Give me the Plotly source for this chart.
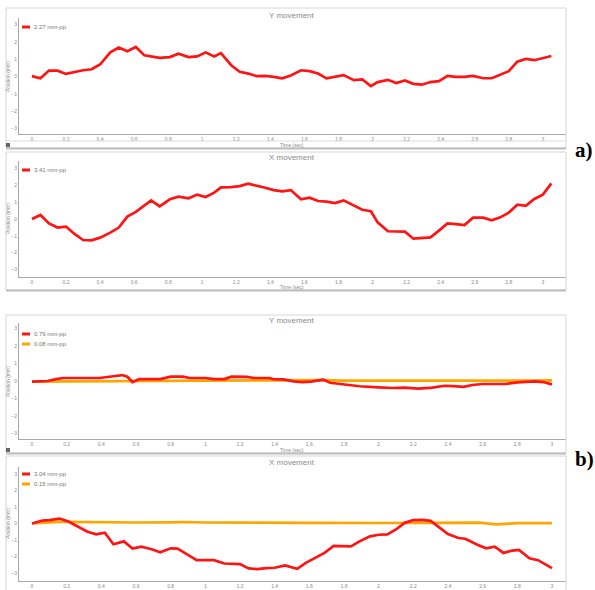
import plotly.graph_objects as go

W, H = 595, 590

# ---------------- data ----------------
time_a = [0, 0.05, 0.1, 0.15, 0.2, 0.25, 0.3, 0.35, 0.4, 0.46, 0.51, 0.56, 0.61, 0.66,
          0.7, 0.75, 0.81, 0.86, 0.92, 0.97, 1.02, 1.07, 1.11, 1.17, 1.22, 1.27, 1.32,
          1.37, 1.42, 1.47, 1.52, 1.58, 1.63, 1.68, 1.73, 1.78, 1.83, 1.89, 1.94, 1.99,
          2.03, 2.09, 2.14, 2.19, 2.24, 2.29, 2.34, 2.39, 2.44, 2.49, 2.54, 2.59, 2.65,
          2.7, 2.75, 2.8, 2.85, 2.9, 2.95, 3.0, 3.05]
y_move_a = [0.02, -0.1, 0.34, 0.34, 0.15, 0.27, 0.36, 0.42, 0.69, 1.39, 1.67, 1.46, 1.7,
            1.22, 1.16, 1.07, 1.12, 1.31, 1.12, 1.16, 1.39, 1.16, 1.35, 0.65, 0.27, 0.17,
            0.02, 0.04, -0.02, -0.1, 0.06, 0.36, 0.31, 0.17, -0.11, -0.03, 0.08, -0.21,
            -0.17, -0.55, -0.32, -0.19, -0.38, -0.23, -0.42, -0.47, -0.32, -0.27, 0.04,
            -0.02, -0.02, 0.04, -0.1, -0.1, 0.1, 0.31, 0.86, 1.01, 0.94, 1.05, 1.18]
x_move_a = [0.0, 0.24, -0.26, -0.51, -0.45, -0.89, -1.25, -1.27, -1.11, -0.81, -0.51, 0.14,
            0.42, 0.79, 1.11, 0.75, 1.17, 1.33, 1.23, 1.45, 1.31, 1.57, 1.88, 1.9, 1.96,
            2.1, 2.0, 1.86, 1.72, 1.64, 1.72, 1.17, 1.27, 1.07, 1.03, 0.95, 1.11, 0.79,
            0.55, 0.46, -0.2, -0.73, -0.73, -0.75, -1.17, -1.15, -1.09, -0.69, -0.26,
            -0.3, -0.36, 0.08, 0.08, -0.08, 0.1, 0.38, 0.85, 0.79, 1.19, 1.45, 2.12]

time_yb_red = [0, 0.09, 0.14, 0.18, 0.3, 0.39, 0.47, 0.52, 0.55, 0.58, 0.62, 0.74, 0.8,
               0.87, 0.91, 1.0, 1.05, 1.11, 1.15, 1.24, 1.28, 1.37, 1.39, 1.45, 1.51,
               1.56, 1.61, 1.68, 1.72, 1.8, 1.89, 2.0, 2.08, 2.15, 2.23, 2.31, 2.38,
               2.43, 2.49, 2.54, 2.6, 2.73, 2.8, 2.9, 2.95, 3.0]
y_move_b_red = [-0.04, 0, 0.11, 0.17, 0.17, 0.17, 0.27, 0.34, 0.24, -0.06, 0.11, 0.11,
                0.25, 0.25, 0.17, 0.17, 0.11, 0.11, 0.25, 0.23, 0.17, 0.17, 0.11, 0.09,
                -0.02, -0.06, -0.04, 0.08, -0.1, -0.21, -0.3, -0.36, -0.4, -0.38, -0.44,
                -0.38, -0.27, -0.29, -0.33, -0.23, -0.17, -0.17, -0.08, -0.02, -0.06, -0.19]
time_yb_orange = [0, 0.3, 0.6, 0.9, 1.2, 1.5, 1.68, 1.8, 2.1, 2.4, 2.7, 3.0]
y_move_b_orange = [-0.03, -0.01, 0.0, 0.0, 0.01, 0.03, 0.05, 0.02, 0.01, 0.02, 0.02, 0.03]

time_xb_red = [0, 0.06, 0.1, 0.16, 0.21, 0.27, 0.32, 0.37, 0.42, 0.47, 0.53, 0.58, 0.63,
               0.69, 0.74, 0.8, 0.84, 0.89, 0.95, 1.0, 1.05, 1.11, 1.16, 1.2, 1.25, 1.3,
               1.35, 1.4, 1.46, 1.53, 1.58, 1.63, 1.69, 1.74, 1.79, 1.84, 1.89, 1.95,
               2.0, 2.05, 2.1, 2.15, 2.2, 2.25, 2.3, 2.35, 2.4, 2.46, 2.5, 2.57, 2.62,
               2.67, 2.72, 2.77, 2.81, 2.87, 2.92, 3.0]
x_move_b_red = [0, 0.18, 0.2, 0.3, 0.12, -0.22, -0.5, -0.66, -0.56, -1.26, -1.08, -1.52,
                -1.4, -1.56, -1.74, -1.5, -1.52, -1.84, -2.22, -2.22, -2.22, -2.42, -2.46,
                -2.46, -2.72, -2.76, -2.7, -2.68, -2.54, -2.74, -2.38, -2.08, -1.76, -1.36,
                -1.36, -1.38, -1.08, -0.78, -0.68, -0.66, -0.36, 0.04, 0.2, 0.22, 0.16,
                -0.26, -0.64, -0.88, -0.92, -1.28, -1.5, -1.4, -1.78, -1.64, -1.6, -2.1,
                -2.22, -2.7]
time_xb_orange = [0, 0.1, 0.15, 0.2, 0.4, 0.6, 0.8, 0.9, 1.0, 1.3, 1.4, 1.6, 2.0, 2.2,
                  2.3, 2.4, 2.58, 2.68, 2.8, 3.0]
x_move_b_orange = [0.0, 0.08, 0.1, 0.1, 0.07, 0.06, 0.07, 0.09, 0.06, 0.07, 0.05, 0.04,
                   0.03, 0.04, 0.06, 0.03, 0.05, -0.05, 0.02, 0.02]

panel_titles = ["Y movement", "X movement", "Y movement", "X movement"]
legend_a_y = ["2.27 mm-pp"]
legend_a_x = ["3.41 mm-pp"]
legend_b_y = ["0.79 mm-pp", "0.08 mm-pp"]
legend_b_x = ["3.04 mm-pp", "0.15 mm-pp"]
x_tick_vals = [0, 0.2, 0.4, 0.6, 0.8, 1, 1.2, 1.4, 1.6, 1.8, 2, 2.2, 2.4, 2.6, 2.8, 3]
x_tick_text = ["0", "0.2", "0.4", "0.6", "0.8", "1", "1.2", "1.4", "1.6", "1.8", "2",
               "2.2", "2.4", "2.6", "2.8", "3"]
y_tick_vals = [-3, -2, -1, 0, 1, 2, 3]
x_title = "Time (sec)"
y_title = "Position (mm)"
panel_labels = ["a)", "b)"]

RED = "#ff1414"
ORANGE = "#ffa500"
GRAY = "#8a8a8a"


def px(x):
    return x / W


def py(y):
    return 1 - y / H


fig = go.Figure()

# panel geometry (pixels)
panels = [
    dict(frame=(6, 8, 566, 148), top=18, bot=134, xr=[-0.076, 3.136], yr=[-3.31, 3.37],
         title_y=15, leg_y=27, xt_y=145, zero=77, icon=True),
    dict(frame=(6, 152, 566, 290), top=161, bot=277, xr=[-0.076, 3.136], yr=[-3.45, 3.45],
         title_y=157, leg_y=170, xt_y=287, zero=219, icon=False),
    dict(frame=(6, 315, 566, 453), top=323, bot=439, xr=[-0.075, 3.081], yr=[-3.31, 3.31],
         title_y=320, leg_y=334, xt_y=450, zero=382, icon=True),
    dict(frame=(6, 456, 566, 640), top=467, bot=581, xr=[-0.075, 3.081], yr=[-3.48, 3.42],
         title_y=462, leg_y=474, xt_y=None, zero=524, icon=False),
]

series = [
    [(time_a, y_move_a, RED, legend_a_y[0])],
    [(time_a, x_move_a, RED, legend_a_x[0])],
    [(time_yb_orange, y_move_b_orange, ORANGE, legend_b_y[1]),
     (time_yb_red, y_move_b_red, RED, legend_b_y[0])],
    [(time_xb_orange, x_move_b_orange, ORANGE, legend_b_x[1]),
     (time_xb_red, x_move_b_red, RED, legend_b_x[0])],
]

shapes = []
annotations = []


def note(text, x, y, size, color, family="Arial", xanchor="center", angle=0):
    annotations.append(dict(text=text, xref="paper", yref="paper", x=px(x), y=py(y),
                            xanchor=xanchor, yanchor="middle", showarrow=False,
                            textangle=angle, borderpad=0,
                            font=dict(size=size, color=color, family=family)))


for i, (p, ser) in enumerate(zip(panels, series)):
    n = "" if i == 0 else str(i + 1)
    xa, ya = "x" + n, "y" + n
    for (tx, vy, col, name) in ser:
        fig.add_trace(go.Scatter(x=tx, y=vy, mode="lines", name=name,
                                 line=dict(color=col, width=2.7), xaxis=xa, yaxis=ya,
                                 showlegend=False, hoverinfo="skip"))
    axis_common = dict(showgrid=False, zeroline=False, showline=True, linecolor="#a8a8a8",
                       linewidth=1, tickfont=dict(size=5, color=GRAY, family="Arial"),
                       ticks="", fixedrange=True)
    fig.layout["xaxis" + n] = dict(axis_common, domain=[px(19), px(566)], range=p["xr"],
                                   anchor=ya, tickvals=x_tick_vals, ticktext=x_tick_text,
                                   ticklabelstandoff=0)
    fig.layout["yaxis" + n] = dict(axis_common, domain=[py(p["bot"]), py(p["top"])],
                                   range=p["yr"], anchor=xa, tickvals=y_tick_vals)

    x0, y0, x1, y1 = p["frame"]
    shapes.append(dict(type="rect", xref="paper", yref="paper", x0=px(x0), x1=px(x1),
                       y0=py(y1), y1=py(y0), line=dict(color="#d6d6d6", width=1)))
    shapes.append(dict(type="line", xref="paper", yref="paper", x0=px(x0), x1=px(x1),
                       y0=py(y1 + 0.5), y1=py(y1 + 0.5), line=dict(color="#bdbdbd", width=2)))
    if p["icon"]:
        shapes.append(dict(type="rect", xref="paper", yref="paper", x0=px(6), x1=px(10),
                           y0=py(y1 - 1), y1=py(y1 - 5), line=dict(width=0),
                           fillcolor="#666666"))

    note(panel_titles[i], 292, p["title_y"], 8, GRAY)
    if p["xt_y"] is not None:
        note(x_title, 292, p["xt_y"], 5, GRAY)
    note(y_title, 8, p["zero"], 5, GRAY, angle=-90)
    # legend (upper-left, inside the plot)
    legend_items = list(reversed(ser))
    for k, (_, _, col, name) in enumerate(legend_items):
        ly = p["leg_y"] + 10 * k
        shapes.append(dict(type="line", xref="paper", yref="paper", x0=px(22), x1=px(30),
                           y0=py(ly), y1=py(ly), line=dict(color=col, width=3)))
        note(name, 33, ly, 6, "#777777", xanchor="left")

# separator between top charts
shapes.append(dict(type="line", xref="paper", yref="paper", x0=px(6), x1=px(566),
                   y0=py(141), y1=py(141), line=dict(color="#dcdcdc", width=1)))

for lab, yy in zip(panel_labels, [150, 459]):
    note("<b>" + lab + "</b>", 584, yy, 21, "black", family="Liberation Serif")

fig.update_layout(width=W, height=H, margin=dict(l=0, r=0, t=0, b=0, pad=0),
                  paper_bgcolor="white", plot_bgcolor="white", showlegend=False,
                  shapes=shapes, annotations=annotations)

fig.write_html("out.html", config={"displayModeBar": False},
               post_script="document.body.style.margin='0px';"
                           "document.body.style.overflow='hidden';")
